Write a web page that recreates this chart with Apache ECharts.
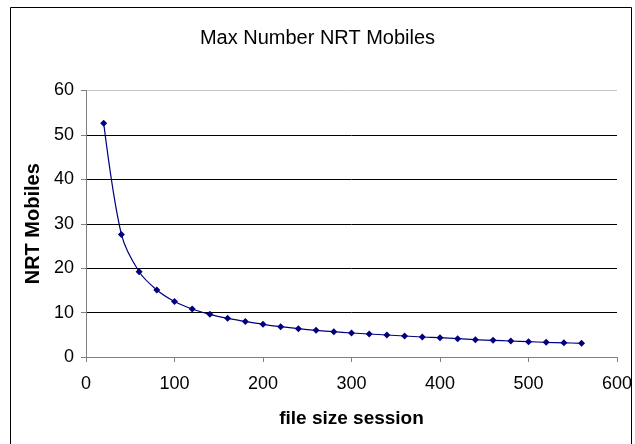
<!DOCTYPE html>
<html>
<head>
<meta charset="utf-8">
<script src="https://cdn.jsdelivr.net/npm/echarts@6/dist/echarts.min.js"></script>
<style>
html,body{margin:0;padding:0;background:#fff;}
#chart{width:635px;height:444px;}
</style>
</head>
<body>
<div id="chart"></div>
<script>
var fileSize = [20,40,60,80,100,120,140,160,180,200,220,240,260,280,300,320,340,360,380,400,420,440,460,480,500,520,540,560];
var nrtMobiles = [52.6,27.6,19.2,15.1,12.5,10.8,9.6,8.7,8.0,7.36,6.83,6.38,6.0,5.7,5.4,5.18,4.95,4.73,4.5,4.35,4.13,3.9,3.75,3.6,3.45,3.3,3.2,3.08];
var xTicks = [0,100,200,300,400,500,600];
var yTicks = [0,10,20,30,40,50,60];

var chart = echarts.init(document.getElementById('chart'), null, {renderer:'canvas'});
var fontFam = 'Liberation Sans, Arial, sans-serif';
chart.setOption({
  animation:false,
  backgroundColor:'#fff',
  title:{
    text:'Max Number NRT Mobiles',
    left:'center', top:23,
    textStyle:{fontFamily:fontFam, fontSize:20, fontWeight:'normal', color:'#000'}
  },
  graphic:[{
    type:'rect', shape:{x:10.5,y:7.5,width:621,height:460},
    style:{fill:null, stroke:'#000', lineWidth:1}, silent:true
  }],
  grid:{left:86, right:16.5, top:90.5, bottom:87},
  xAxis:{
    type:'value', min:xTicks[0], max:xTicks[xTicks.length-1], interval:100,
    name:'file size session', nameLocation:'middle', nameGap:52,
    nameTextStyle:{fontFamily:fontFam, fontSize:19, fontWeight:'bold', color:'#000'},
    axisLine:{show:true, onZero:false, lineStyle:{color:'#808080', width:1}},
    axisTick:{show:true, length:5, inside:false, lineStyle:{color:'#808080'}},
    axisLabel:{fontFamily:fontFam, fontSize:18, color:'#000', margin:18},
    splitLine:{show:false}
  },
  yAxis:{
    type:'value', min:yTicks[0], max:yTicks[yTicks.length-1], interval:10,
    name:'NRT Mobiles', nameLocation:'middle', nameGap:41, nameRotate:90,
    nameTextStyle:{fontFamily:fontFam, fontSize:20, fontWeight:'bold', color:'#000'},
    axisLine:{show:true, lineStyle:{color:'#808080', width:1}},
    axisTick:{show:true, length:5, inside:false, lineStyle:{color:'#808080'}},
    axisLabel:{fontFamily:fontFam, fontSize:18, color:'#000', margin:12},
    splitLine:{show:true, lineStyle:{color:['#000','#000','#000','#000','#000','#000','#c8c8c8'], width:1}}
  },
  series:[{
    type:'line',
    data:fileSize.map(function(x,i){return [x, nrtMobiles[i]];}),
    smooth:0.3,
    symbol:'diamond', symbolSize:7,
    lineStyle:{color:'#000080', width:1.2},
    itemStyle:{color:'#000080'}
  }]
});
</script>
</body>
</html>
